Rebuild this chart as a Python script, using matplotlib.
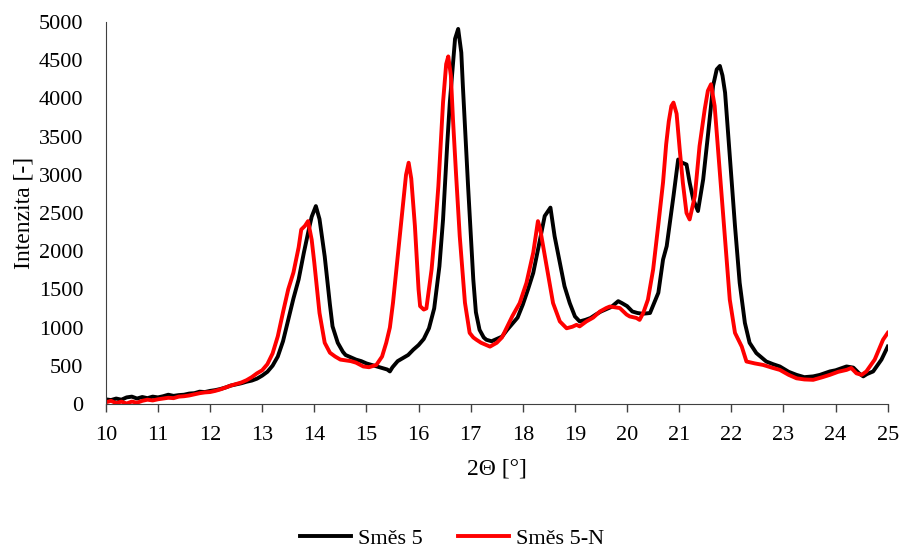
import matplotlib.pyplot as plt

# Směs 5 (black)
x_smes5 = [10.0, 10.1, 10.2, 10.3, 10.4, 10.5, 10.6, 10.7, 10.8, 10.9,
           11.0, 11.1, 11.2, 11.3, 11.4, 11.5, 11.6, 11.7, 11.8, 11.9,
           12.0, 12.1, 12.2, 12.3, 12.4, 12.5, 12.6, 12.7, 12.8, 12.9,
           13.0, 13.1, 13.2, 13.3, 13.4, 13.5, 13.6, 13.7, 13.8, 13.9,
           13.95, 14.03, 14.1, 14.2, 14.3, 14.35, 14.45, 14.55, 14.6, 14.7,
           14.8, 14.9, 15.0, 15.1, 15.2, 15.3, 15.4, 15.45, 15.5, 15.6,
           15.7, 15.8, 15.9, 16.0, 16.1, 16.2, 16.3, 16.4, 16.47, 16.55,
           16.6, 16.7, 16.76, 16.82, 16.85, 16.95, 17.05, 17.1, 17.17, 17.25,
           17.3, 17.4, 17.5, 17.6, 17.7, 17.8, 17.9, 18.0, 18.1, 18.2,
           18.3, 18.42, 18.53, 18.61, 18.71, 18.8, 18.9, 19.0, 19.09, 19.2,
           19.3, 19.4, 19.5, 19.6, 19.7, 19.83, 19.9, 20.0, 20.1, 20.2,
           20.3, 20.44, 20.5, 20.6, 20.69, 20.76, 20.82, 20.89, 20.98, 21.05,
           21.14, 21.2, 21.27, 21.36, 21.46, 21.55, 21.65, 21.72, 21.78, 21.83,
           21.88, 21.97, 22.07, 22.16, 22.26, 22.35, 22.48, 22.67, 22.8, 22.93,
           23.1, 23.25, 23.4, 23.57, 23.7, 23.89, 24.0, 24.21, 24.34, 24.45,
           24.53, 24.6, 24.72, 24.88, 25.0]
y_smes5 = [60, 50, 70, 55, 85, 95, 70, 90, 75, 95,
           85, 100, 120, 105, 115, 120, 135, 140, 160, 155,
           170, 180, 195, 215, 240, 255, 270, 290, 305, 330,
           370, 420, 500, 620, 820, 1100, 1380, 1630, 1980, 2300,
           2450, 2590, 2420, 1930, 1300, 1015, 800, 680, 640, 610,
           580, 560, 530, 510, 490, 470, 450, 425, 480, 560,
           600, 640, 710, 770, 850, 990, 1250, 1800, 2415, 3400,
           3950, 4780, 4910, 4600, 4165, 2850, 1630, 1200, 970, 870,
           840, 820, 850, 880, 970, 1050, 1130, 1300, 1500, 1715,
           2050, 2460, 2570, 2195, 1850, 1540, 1320, 1145, 1080, 1100,
           1125, 1170, 1210, 1240, 1270, 1345, 1320, 1280, 1210, 1190,
           1180, 1190, 1290, 1455, 1890, 2065, 2370, 2720, 3200, 3160,
           3135, 2900, 2675, 2525, 2940, 3510, 4165, 4380, 4425, 4300,
           4075, 3245, 2330, 1585, 1060, 800, 665, 555, 520, 490,
           420, 380, 350, 360, 380, 425, 440, 490, 475, 400,
           360, 390, 425, 580, 750]

# Směs 5-N (red)
x_smes5n = [10.0, 10.1, 10.2, 10.3, 10.4, 10.5, 10.6, 10.7, 10.8, 10.9,
            11.0, 11.1, 11.2, 11.3, 11.4, 11.5, 11.6, 11.7, 11.8, 11.9,
            12.0, 12.1, 12.2, 12.3, 12.4, 12.5, 12.6, 12.7, 12.8, 12.9,
            13.0, 13.1, 13.2, 13.3, 13.4, 13.5, 13.6, 13.7, 13.75, 13.82,
            13.88, 13.95, 14.0, 14.1, 14.2, 14.3, 14.4, 14.5, 14.7, 14.8,
            14.94, 15.05, 15.19, 15.26, 15.3, 15.38, 15.45, 15.51, 15.58, 15.64,
            15.7, 15.76, 15.81, 15.86, 15.93, 16.0, 16.03, 16.1, 16.15, 16.25,
            16.32, 16.38, 16.47, 16.53, 16.57, 16.62, 16.66, 16.72, 16.79, 16.89,
            16.98, 17.05, 17.11, 17.2, 17.37, 17.5, 17.6, 17.69, 17.8, 17.94,
            18.07, 18.2, 18.29, 18.33, 18.39, 18.49, 18.58, 18.71, 18.84, 18.95,
            19.03, 19.09, 19.22, 19.35, 19.48, 19.6, 19.67, 19.86, 19.99, 20.05,
            20.18, 20.24, 20.31, 20.4, 20.5, 20.6, 20.69, 20.75, 20.8, 20.85,
            20.89, 20.95, 21.01, 21.07, 21.14, 21.2, 21.3, 21.39, 21.49, 21.55,
            21.61, 21.68, 21.78, 21.88, 21.97, 22.07, 22.2, 22.29, 22.45, 22.61,
            22.8, 22.93, 23.1, 23.25, 23.4, 23.57, 23.75, 23.89, 24.05, 24.21,
            24.3, 24.4, 24.5, 24.59, 24.75, 24.91, 25.0]
y_smes5n = [20, 40, 10, 30, 5, 30, 15, 40, 55, 45,
            60, 70, 80, 75, 95, 100, 110, 125, 140, 150,
            155, 170, 190, 215, 240, 260, 280, 310, 350, 400,
            440, 520, 660, 885, 1200, 1500, 1720, 2050, 2283, 2330,
            2393, 2150, 1850, 1190, 800, 670, 620, 580, 560, 540,
            490, 480, 510, 580, 620, 800, 1000, 1325, 1800, 2195,
            2600, 3000, 3158, 2950, 2330, 1500, 1280, 1235, 1250, 1760,
            2300, 2850, 3950, 4450, 4550, 4300, 3730, 3000, 2195, 1325,
            930, 870, 840, 800, 750, 800, 870, 995, 1150, 1320,
            1585, 1980, 2393, 2300, 2065, 1670, 1320, 1080, 990, 1010,
            1035, 1015, 1080, 1130, 1210, 1255, 1275, 1255, 1170, 1145,
            1125, 1100, 1190, 1365, 1760, 2350, 2900, 3400, 3700, 3900,
            3945, 3800, 3330, 2895, 2500, 2415, 2720, 3375, 3860, 4100,
            4185, 3900, 3025, 2150, 1365, 930, 750, 555, 530, 510,
            470, 445, 380, 335, 320, 315, 350, 380, 420, 445,
            470, 400, 380, 425, 580, 840, 930]

plt.rcParams['font.family'] = ['Liberation Serif', 'DejaVu Serif']

fig = plt.figure(figsize=(9.04, 5.51), dpi=100)
ax = fig.add_axes([0.117, 0.267, 0.865, 0.693])

ax.plot(x_smes5, y_smes5, color='black', lw=2.8, label='Směs 5')
ax.plot(x_smes5n, y_smes5n, color='#ff0000', lw=2.8, label='Směs 5-N')

ax.set_xlim(10, 25)
ax.set_ylim(0, 5000)
ax.set_xticks(range(10, 26))
ax.set_yticks(range(0, 5001, 500))
ax.tick_params(axis='x', direction='out', length=6, width=1, labelsize=16, pad=10, color='#404040')
ax.tick_params(axis='y', length=0, labelsize=16, pad=16)

for s in ['top', 'right']:
    ax.spines[s].set_visible(False)
ax.spines['left'].set_color('#404040')
ax.spines['bottom'].set_color('#404040')

ax.set_xlabel('2Θ [°]', fontsize=17, labelpad=10)
ax.set_ylabel('Intenzita [-]', fontsize=17, labelpad=3)

fig.legend(loc='lower center', bbox_to_anchor=(0.5, -0.032), ncol=2, frameon=False,
           fontsize=16, handlelength=2.3, columnspacing=1.6, handletextpad=0.3)

fig.savefig('out.png', dpi=100)
